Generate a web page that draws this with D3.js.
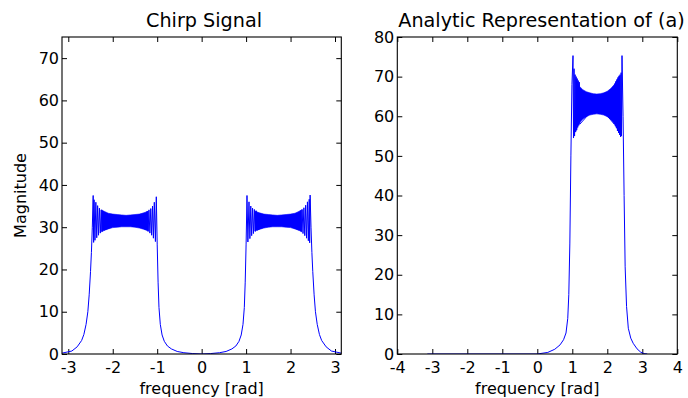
<!DOCTYPE html>
<html><head><meta charset="utf-8">
<script src="https://cdn.jsdelivr.net/npm/d3@7"></script>
<style>
body{margin:0;background:#fff}
svg{display:block}
text{font-family:"DejaVu Sans",sans-serif;fill:#000}
</style>
</head><body>
<svg id="c" width="688" height="398"></svg>
<script>
// ---------- data ----------
const leftTitle = "Chirp Signal";
const rightTitle = "Analytic Representation of (a)";
const xLabel = "frequency [rad]";
const yLabel = "Magnitude";

const leftXTicks = [-3, -2, -1, 0, 1, 2, 3];
const leftYTicks = [0, 10, 20, 30, 40, 50, 60, 70];
const rightXTicks = [-4, -3, -2, -1, 0, 1, 2, 3, 4];
const rightYTicks = [0, 10, 20, 30, 40, 50, 60, 70, 80];

// left panel: magnitude spectrum of the real chirp (negative frequencies)
const leftNegFreq = [-3.14159, -2.92, -2.8, -2.7, -2.65, -2.6, -2.56, -2.53, -2.5, -2.48,
  -2.46, -2.44, -2.43, -2.42, -2.40, -2.38, -2.36, -2.34, -2.32, -2.30,
  -2.28, -2.26, -2.24, -2.22, -2.20, -1.72, -1.245, -1.225, -1.205, -1.185,
  -1.165, -1.145, -1.125, -1.105, -1.085, -1.065, -1.04, -1.02, -1.0, -0.98,
  -0.96, -0.93, -0.89, -0.84, -0.77, -0.68, -0.55, -0.4, -0.2];
const leftNegMag = [0.2, 0.7, 1.7, 3.2, 4.6, 7, 10, 14, 19.5, 24,
  30, 37.5, 26.4, 36.5, 26.9, 35.9, 27.5, 35.1, 28.1, 34.5,
  28.6, 34.1, 29.0, 33.8, 29.3, 31.5, 29.4, 33.8, 29.0, 34.1,
  28.6, 34.4, 28.1, 35.0, 27.4, 35.9, 26.6, 37.2, 26, 17,
  11, 7, 4.5, 3.0, 1.9, 1.2, 0.6, 0.3, 0.1];
// left panel: positive frequencies
const leftPosFreq = [0, 0.2, 0.4, 0.55, 0.68, 0.77, 0.84, 0.89, 0.93, 0.96,
  0.98, 1.0, 1.02, 1.04, 1.065, 1.085, 1.105, 1.125, 1.145, 1.165,
  1.185, 1.205, 1.225, 1.245, 1.72, 2.20, 2.22, 2.24, 2.26, 2.28,
  2.30, 2.32, 2.34, 2.36, 2.38, 2.40, 2.42, 2.43, 2.44, 2.46,
  2.48, 2.5, 2.53, 2.56, 2.6, 2.65, 2.7, 2.8, 2.92, 3.14159];
const leftPosMag = [0, 0.1, 0.3, 0.6, 1.2, 1.9, 3.0, 4.5, 7, 11,
  17, 26, 37.5, 26.5, 36.0, 27.3, 35.0, 28.0, 34.5, 28.5,
  34.2, 29.0, 33.9, 29.3, 31.5, 29.3, 33.9, 29.0, 34.2, 28.5,
  34.6, 28.0, 35.2, 27.4, 36.0, 26.8, 36.6, 26.3, 37.6, 30,
  24, 19.5, 14, 10, 7, 4.6, 3.2, 1.7, 0.7, 0.2];
// dense ripple bands (upper / lower envelopes)
const leftBandNegFreq = [-2.25, -2.2, -2.1, -2.0, -1.9, -1.8, -1.7, -1.6, -1.5, -1.4, -1.3, -1.2];
const leftBandNegUpper = [34.1, 33.8, 33.3, 33.1, 33.0, 32.9, 32.8, 32.9, 33.0, 33.1, 33.4, 33.8];
const leftBandNegLower = [28.9, 29.2, 29.6, 29.9, 30.0, 30.1, 30.1, 30.1, 30.0, 29.8, 29.5, 29.1];
const leftBandPosFreq = [1.2, 1.3, 1.4, 1.5, 1.6, 1.7, 1.8, 1.9, 2.0, 2.1, 2.2, 2.25];
const leftBandPosUpper = [33.8, 33.4, 33.1, 33.0, 32.9, 32.8, 32.9, 33.0, 33.1, 33.3, 33.8, 34.1];
const leftBandPosLower = [29.1, 29.5, 29.8, 30.0, 30.1, 30.1, 30.1, 30.0, 29.9, 29.6, 29.2, 28.9];

// right panel: analytic signal spectrum
const rightFreq = [-3.14159, -2, -1, 0, 0.3, 0.5, 0.65, 0.75, 0.82, 0.87,
  0.9, 0.93, 0.96, 0.99, 1.02, 1.035, 1.05, 1.065, 1.08, 1.095,
  1.11, 1.125, 1.14, 1.155, 1.17, 1.185, 1.2, 1.215, 1.72, 2.2,
  2.215, 2.23, 2.245, 2.26, 2.275, 2.29, 2.305, 2.32, 2.335, 2.35,
  2.365, 2.38, 2.395, 2.405, 2.42, 2.45, 2.48, 2.51, 2.55, 2.6,
  2.67, 2.74, 2.85, 2.95, 3.05, 3.14159];
const rightMag = [0, 0, 0, 0, 0.4, 1.2, 2.3, 3.6, 5.3, 9,
  15, 28, 50, 68, 75.3, 54.5, 72, 55, 70.5, 56,
  70, 56.5, 69.5, 57.2, 69, 57.7, 68.6, 58, 63, 58,
  68.2, 57.5, 68.8, 57, 69.3, 56.3, 69.8, 55.8, 70.2, 55.3,
  70.5, 54.8, 71, 55, 75.3, 60, 40, 22, 12, 6.5,
  4, 2.7, 1.3, 0.5, 0.1, 0];
const rightBandFreq = [1.1, 1.15, 1.2, 1.3, 1.4, 1.5, 1.6, 1.7, 1.8, 1.9, 2.0, 2.1, 2.2, 2.3, 2.36];
const rightBandUpper = [69.5, 68.6, 67.6, 66.7, 66.2, 65.9, 65.7, 65.6, 65.7, 65.9, 66.3, 67.0, 68.0, 69.4, 70.2];
const rightBandLower = [56.3, 57.5, 58.3, 59.3, 59.9, 60.3, 60.5, 60.6, 60.5, 60.3, 59.9, 59.2, 58.2, 56.6, 55.6];

// ---------- layout ----------
const svg = d3.select("#c");
const plotTop = 37, plotBottom = 354;
const lineColor = "#0000ff";
const tickLen = 5;
const fmt = d => String(d);   // plain hyphen-minus like the reference

function zip(f, m) { return f.map((v, i) => [v, m[i]]); }
function band(f, u, l) { return f.map((v, i) => ({x: v, u: u[i], l: l[i]})); }

function panel(opts) {
  const x = d3.scaleLinear().domain(opts.xDomain).range([opts.x0, opts.x1]);
  const y = d3.scaleLinear().domain(opts.yDomain).range([plotBottom, plotTop]);
  const g = svg.append("g");
  const id = "clip" + opts.key;
  svg.append("clipPath").attr("id", id).append("rect")
    .attr("x", opts.x0).attr("y", plotTop).attr("width", opts.x1 - opts.x0).attr("height", plotBottom - plotTop);

  const ax = [
    [d3.axisBottom(x).tickValues(opts.xTicks).tickSizeInner(-tickLen).tickSizeOuter(0).tickPadding(7.5).tickFormat(fmt), `translate(0,${plotBottom})`],
    [d3.axisTop(x).tickValues(opts.xTicks).tickSizeInner(-tickLen).tickSizeOuter(0).tickFormat(""), `translate(0,${plotTop})`],
    [d3.axisLeft(y).tickValues(opts.yTicks).tickSizeInner(-tickLen).tickSizeOuter(0).tickPadding(3).tickFormat(fmt), `translate(${opts.x0},0)`],
    [d3.axisRight(y).tickValues(opts.yTicks).tickSizeInner(-tickLen).tickSizeOuter(0).tickFormat(""), `translate(${opts.x1},0)`]
  ];
  ax.forEach(([a, t]) => {
    const ag = g.append("g").attr("transform", t).call(a);
    ag.select(".domain").remove();
    ag.selectAll("line").attr("stroke", "#000").attr("stroke-width", 1);
    ag.selectAll("text").attr("font-size", 16).attr("font-family", "DejaVu Sans").attr("fill", "#000");
  });

  const plot = g.append("g").attr("clip-path", `url(#${id})`);
  const area = d3.area().x(d => x(d.x)).y0(d => y(d.l)).y1(d => y(d.u));
  opts.bands.forEach(b => {
    plot.append("path").datum(b).attr("d", area).attr("fill", lineColor).attr("stroke", lineColor).attr("stroke-width", 0.6);
  });
  const line = d3.line().x(d => x(d[0])).y(d => y(d[1]));
  plot.append("path").datum(opts.line).attr("d", line)
    .attr("fill", "none").attr("stroke", lineColor).attr("stroke-width", 1).attr("stroke-linejoin", "miter");

  g.append("rect").attr("x", opts.x0).attr("y", plotTop).attr("width", opts.x1 - opts.x0).attr("height", plotBottom - plotTop)
    .attr("fill", "none").attr("stroke", "#000").attr("stroke-width", 1.1);

  g.append("text").attr("x", opts.titleX).attr("y", 27.3).attr("text-anchor", "middle")
    .attr("font-size", 19.2).text(opts.title);
  g.append("text").attr("x", (opts.x0 + opts.x1) / 2).attr("y", 394).attr("text-anchor", "middle")
    .attr("font-size", 16).text(xLabel);
  if (opts.ylabel) {
    g.append("text").attr("transform", `translate(26,${(plotTop + plotBottom) / 2}) rotate(-90)`)
      .attr("text-anchor", "middle").attr("font-size", 16).text(opts.ylabel);
  }
}

panel({
  key: "L", x0: 62, x1: 341.3, xDomain: [-Math.PI, Math.PI], yDomain: [0, 75],
  xTicks: leftXTicks, yTicks: leftYTicks, title: leftTitle, titleX: 204, ylabel: yLabel,
  line: zip(leftNegFreq, leftNegMag).concat(zip(leftPosFreq, leftPosMag)),
  bands: [band(leftBandNegFreq, leftBandNegUpper, leftBandNegLower), band(leftBandPosFreq, leftBandPosUpper, leftBandPosLower)]
});
panel({
  key: "R", x0: 397.3, x1: 677.3, xDomain: [-4, 4], yDomain: [0, 80],
  xTicks: rightXTicks, yTicks: rightYTicks, title: rightTitle, titleX: 541.5, ylabel: null,
  line: zip(rightFreq, rightMag),
  bands: [band(rightBandFreq, rightBandUpper, rightBandLower)]
});
</script>
</body></html>
